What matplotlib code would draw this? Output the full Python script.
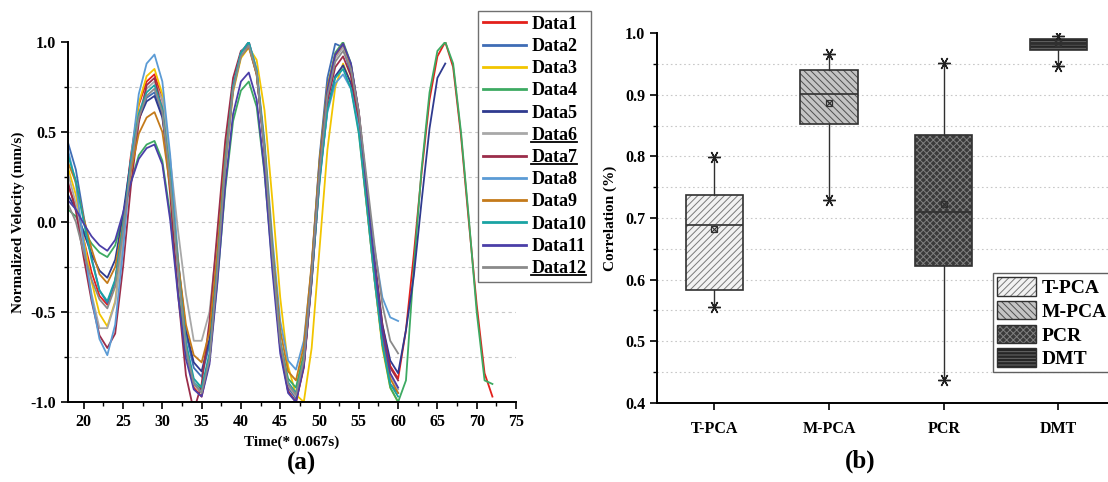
import numpy as np
import matplotlib
matplotlib.use("Agg")
import matplotlib.pyplot as plt
import matplotlib.patches as mpatches
from matplotlib.lines import Line2D
from matplotlib.legend_handler import HandlerTuple
from matplotlib.ticker import MultipleLocator

plt.rcParams['font.family'] = ['Liberation Serif', 'DejaVu Serif']
plt.rcParams['font.weight'] = 'bold'
plt.rcParams['hatch.linewidth'] = 0.7

# ---- panel (a): normalized velocity, one sample per time step starting at t = 18
t0 = 18
data1 = [0.20, 0.09, -0.10, -0.28, -0.41, -0.46, -0.33, -0.01, 0.37, 0.65, 0.78, 0.82,
         0.68, 0.28, -0.25, -0.70, -0.92, -0.97, -0.77, -0.28, 0.31, 0.74, 0.94, 1.00,
         0.84, 0.40, -0.20, -0.70, -0.94, -1.00, -0.80, -0.31, 0.29, 0.72, 0.92, 0.98,
         0.87, 0.61, 0.20, -0.20, -0.57, -0.80, -0.87,
         -0.60, -0.18, 0.28, 0.68, 0.92, 1.00, 0.86, 0.48, 0.00, -0.46, -0.84, -0.97]
data2 = [0.44, 0.29, 0.03, -0.20, -0.38, -0.45, -0.33, -0.04, 0.31, 0.57, 0.69, 0.72,
         0.59, 0.25, -0.23, -0.62, -0.81, -0.86, -0.68, -0.21, 0.34, 0.75, 0.94, 0.99,
         0.83, 0.40, -0.19, -0.69, -0.92, -0.98, -0.78, -0.25, 0.36, 0.80, 0.99, 0.97,
         0.82, 0.52, 0.10, -0.32, -0.68, -0.90, -0.95]
data3 = [0.30, 0.15, -0.10, -0.33, -0.51, -0.58, -0.44, -0.08, 0.35, 0.66, 0.81, 0.85,
         0.71, 0.31, -0.23, -0.68, -0.90, -0.95, -0.76, -0.28, 0.30, 0.72, 0.91, 0.97,
         0.90, 0.62, 0.12, -0.42, -0.80, -0.96, -1.00, -0.70, -0.15, 0.40, 0.75, 0.88,
         0.77, 0.50, 0.09, -0.32, -0.70, -0.92, -1.00]
data4 = [0.07, 0.03, -0.05, -0.12, -0.17, -0.195, -0.13, 0.03, 0.22, 0.37, 0.43, 0.45,
         0.34, 0.04, -0.38, -0.72, -0.89, -0.93, -0.76, -0.33, 0.18, 0.56, 0.73, 0.78,
         0.64, 0.27, -0.24, -0.67, -0.87, -0.92, -0.73, -0.25, 0.33, 0.75, 0.94, 1.00,
         0.88, 0.60, 0.16, -0.28, -0.68, -0.92, -1.00,
         -0.88, -0.25, 0.30, 0.72, 0.95, 1.00, 0.88, 0.50, 0.02, -0.50, -0.88, -0.90]
data5 = [0.15, 0.07, -0.06, -0.18, -0.27, -0.31, -0.21, 0.04, 0.35, 0.57, 0.67, 0.70,
         0.58, 0.24, -0.22, -0.60, -0.78, -0.83, -0.65, -0.19, 0.35, 0.75, 0.94, 0.99,
         0.83, 0.40, -0.19, -0.68, -0.91, -0.97, -0.79, -0.33, 0.23, 0.63, 0.81, 0.87,
         0.77, 0.53, 0.15, -0.22, -0.57, -0.77, -0.84,
         -0.60, -0.30, 0.12, 0.52, 0.80, 0.88]
data6 = [0.27, 0.10, -0.16, -0.40, -0.59, -0.59, -0.45, -0.11, 0.30, 0.60, 0.74, 0.78,
         0.68, 0.35, -0.05, -0.40, -0.66, -0.66, -0.50, -0.09, 0.41, 0.77, 0.93, 0.98,
         0.82, 0.40, -0.19, -0.68, -0.91, -0.97, -0.78, -0.29, 0.29, 0.72, 0.91, 0.97,
         0.86, 0.59, 0.17, -0.25, -0.63, -0.85, -0.93]
data7 = [0.22, 0.06, -0.20, -0.44, -0.63, -0.70, -0.62, -0.25, 0.20, 0.55, 0.76, 0.80,
         0.62, 0.15, -0.40, -0.85, -1.05, -0.90, -0.55, -0.05, 0.45, 0.80, 0.95, 0.98,
         0.82, 0.39, -0.21, -0.70, -0.94, -1.00, -0.81, -0.33, 0.25, 0.67, 0.86, 0.92,
         0.81, 0.56, 0.16, -0.23, -0.59, -0.81, -0.88]
data8 = [0.40, 0.21, -0.12, -0.42, -0.65, -0.74, -0.57, -0.16, 0.35, 0.71, 0.88, 0.93,
         0.78, 0.37, -0.20, -0.67, -0.89, -0.95, -0.76, -0.27, 0.32, 0.75, 0.94, 1.00,
         0.85, 0.45, -0.09, -0.55, -0.77, -0.82, -0.66, -0.25, 0.25, 0.61, 0.77, 0.82,
         0.74, 0.52, 0.18, -0.15, -0.42, -0.53, -0.55]
data9 = [0.33, 0.22, 0.02, -0.15, -0.29, -0.34, -0.25, -0.01, 0.28, 0.49, 0.58, 0.61,
         0.50, 0.19, -0.22, -0.57, -0.74, -0.78, -0.61, -0.17, 0.36, 0.74, 0.92, 0.97,
         0.82, 0.42, -0.14, -0.60, -0.83, -0.88, -0.69, -0.23, 0.34, 0.75, 0.93, 0.99,
         0.87, 0.60, 0.18, -0.25, -0.64, -0.87, -0.95]
data10 = [0.37, 0.23, 0.00, -0.21, -0.38, -0.44, -0.32, -0.02, 0.34, 0.60, 0.72, 0.76,
          0.63, 0.26, -0.25, -0.67, -0.87, -0.92, -0.73, -0.25, 0.33, 0.75, 0.94, 1.00,
          0.84, 0.42, -0.17, -0.66, -0.89, -0.95, -0.77, -0.32, 0.22, 0.62, 0.80, 0.85,
          0.74, 0.49, 0.09, -0.32, -0.68, -0.90, -0.97]
data11 = [0.12, 0.07, -0.01, -0.08, -0.13, -0.16, -0.10, 0.05, 0.22, 0.35, 0.41, 0.43,
          0.32, 0.01, -0.41, -0.76, -0.93, -0.97, -0.79, -0.34, 0.20, 0.60, 0.78, 0.83,
          0.68, 0.28, -0.27, -0.73, -0.95, -1.00, -0.80, -0.30, 0.29, 0.73, 0.93, 0.99,
          0.88, 0.61, 0.19, -0.23, -0.61, -0.84, -0.92]
data12 = [0.10, 0.00, -0.17, -0.32, -0.43, -0.48, -0.36, -0.05, 0.31, 0.58, 0.70, 0.74,
          0.61, 0.23, -0.27, -0.70, -0.90, -0.95, -0.76, -0.27, 0.31, 0.73, 0.92, 0.98,
          0.83, 0.40, -0.18, -0.67, -0.90, -0.96, -0.77, -0.29, 0.28, 0.70, 0.89, 0.95,
          0.85, 0.61, 0.24, -0.13, -0.46, -0.66, -0.73]

series = [data1, data2, data3, data4, data5, data6,
          data7, data8, data9, data10, data11, data12]
names = ['Data%d' % i for i in range(1, 13)]
underlined = ['Data6', 'Data7', 'Data12']
colors = ['#E3201B', '#3F6DB5', '#F2C500', '#3DAA62', '#2F3A8F', '#A8A8A8',
          '#9B2D4A', '#5B9BD5', '#C47A1A', '#1AA3A3', '#4B3FA8', '#8A8A8A']

# ---- panel (b): correlation box statistics
methods = ['T-PCA', 'M-PCA', 'PCR', 'DMT']
whislo = [0.556, 0.729, 0.438, 0.947]
q1 = [0.584, 0.852, 0.622, 0.973]
med = [0.688, 0.901, 0.710, 0.982]
q3 = [0.737, 0.940, 0.835, 0.991]
whishi = [0.799, 0.966, 0.952, 0.995]
mean = [0.682, 0.887, 0.723, 0.984]

box_face = ['#f2f2f2', '#c4c4c4', '#3a3a3a', '#262626']
box_hatch = ['/////', '\\\\\\\\\\', 'xxxxx', '-----']
hatch_col = ['#7a7a7a', '#505050', '#808080', '#6a6a6a']

fig = plt.figure(figsize=(11.08, 4.82), dpi=100)

# ============ (a) ============
ax1 = fig.add_axes([0.0614, 0.166, 0.4043, 0.747])
for v, c, n in zip(series, colors, names):
    t = np.arange(t0, t0 + len(v))
    ax1.plot(t, v, color=c, lw=1.3, label=n)

ax1.set_xlim(18, 75)
ax1.set_ylim(-1.0, 1.0)
for g in np.arange(-0.75, 0.76, 0.25):
    ax1.axhline(g, color='#c8c8c8', lw=0.8, ls=(0, (3, 3)), zorder=0)
ax1.xaxis.set_major_locator(MultipleLocator(5))
ax1.xaxis.set_minor_locator(MultipleLocator(2.5))
ax1.yaxis.set_major_locator(MultipleLocator(0.5))
ax1.yaxis.set_minor_locator(MultipleLocator(0.25))
ax1.tick_params(which='major', direction='out', length=5, width=1.2, labelsize=11.5)
ax1.tick_params(which='minor', direction='out', length=3, width=1.0)
ax1.spines['top'].set_visible(False)
ax1.spines['right'].set_visible(False)
ax1.spines['left'].set_linewidth(1.4)
ax1.spines['bottom'].set_linewidth(1.4)
ax1.yaxis.set_major_formatter(matplotlib.ticker.FormatStrFormatter('%.1f'))
ax1.set_xlabel('Time(* 0.067s)', fontsize=11, fontweight='bold', labelpad=4)
ax1.set_ylabel('Normalized Velocity (mm/s)', fontsize=11, fontweight='bold', labelpad=4)

leg1 = fig.legend(loc='upper left', bbox_to_anchor=(0.4314, 0.977),
                  bbox_transform=fig.transFigure, fontsize=13,
                  frameon=True, fancybox=False, framealpha=1, edgecolor='#707070',
                  handlelength=2.4, handletextpad=0.3, labelspacing=0.29,
                  borderpad=0.25, borderaxespad=0)
leg1.get_frame().set_linewidth(1.0)
for line in leg1.get_lines():
    line.set_linewidth(2.0)

fig.text(0.272, 0.025, '(a)', fontsize=18, fontweight='bold', ha='center')

# ============ (b) ============
ax2 = fig.add_axes([0.593, 0.164, 0.414, 0.7675])
pos = np.arange(1, len(methods) + 1)
stats = [dict(label=m, whislo=a, q1=b, med=c, q3=d, whishi=e, mean=f)
         for m, a, b, c, d, e, f in zip(methods, whislo, q1, med, q3, whishi, mean)]
bp = ax2.bxp(stats, positions=pos, widths=0.5, patch_artist=True,
             showmeans=False, showcaps=False, showfliers=False,
             whiskerprops=dict(color='#303030', lw=1.0),
             medianprops=dict(color='#303030', lw=1.2),
             boxprops=dict(lw=0))
box_w = 0.5
for b, fc, h, hc in zip(bp['boxes'], box_face, box_hatch, hatch_col):
    b.set_facecolor(fc)
    b.set_hatch(h)
    b.set_edgecolor(hc)
    b.set_linewidth(0)
for p, lo, hi in zip(pos, q1, q3):
    ax2.add_patch(mpatches.Rectangle((p - box_w / 2, lo), box_w, hi - lo,
                                     fill=False, ec='#303030', lw=1.2, zorder=3))

star = (6, 2, 90)
ax2.plot(pos, whishi, ls='none', marker=star, ms=9, mec='#202020', mew=1.0, zorder=4)
ax2.plot(pos, whislo, ls='none', marker=star, ms=9, mec='#202020', mew=1.0, zorder=4)
ax2.plot(pos, mean, ls='none', marker='s', ms=5, mfc='none', mec='#303030', mew=0.9, zorder=4)
ax2.plot(pos, mean, ls='none', marker='x', ms=4, mec='#303030', mew=0.8, zorder=4)

ax2.set_xlim(0.5, 4.5)
ax2.set_ylim(0.4, 1.0)
for g in np.arange(0.45, 0.96, 0.05):
    ax2.axhline(g, color='#c8c8c8', lw=0.8, ls=(0, (1.5, 2.5)), zorder=0)
ax2.set_xticks(pos)
ax2.set_xticklabels(methods)
ax2.yaxis.set_major_locator(MultipleLocator(0.1))
ax2.yaxis.set_minor_locator(MultipleLocator(0.05))
ax2.yaxis.set_major_formatter(matplotlib.ticker.FormatStrFormatter('%.1f'))
ax2.tick_params(which='major', direction='out', length=5, width=1.2, labelsize=11.5)
ax2.tick_params(which='minor', direction='out', length=3, width=1.0)
ax2.tick_params(axis='x', pad=8)
ax2.spines['top'].set_visible(False)
ax2.spines['right'].set_visible(False)
ax2.spines['left'].set_linewidth(1.4)
ax2.spines['bottom'].set_linewidth(1.4)
ax2.set_ylabel('Correlation (%)', fontsize=11, fontweight='bold', labelpad=6)

handles = []
for fc, h, hc in zip(box_face, box_hatch, hatch_col):
    fill = mpatches.Patch(facecolor=fc, hatch=h, edgecolor=hc, lw=0)
    edge = mpatches.Patch(fill=False, edgecolor='#303030', lw=1.0)
    handles.append((fill, edge))
leg2 = fig.legend(handles, methods, loc='upper left',
                  bbox_to_anchor=(0.8962, 0.4336), bbox_transform=fig.transFigure,
                  handler_map={tuple: HandlerTuple(ndivide=1, pad=0)},
                  fontsize=14, frameon=True, fancybox=False, framealpha=1,
                  edgecolor='#606060', handlelength=2.0, handleheight=1.1,
                  handletextpad=0.3, labelspacing=0.2, borderpad=0.2, borderaxespad=0)
leg2.get_frame().set_linewidth(1.0)

fig.text(0.776, 0.03, '(b)', fontsize=18, fontweight='bold', ha='center')

# underline a few legend entries
fig.canvas.draw()
renderer = fig.canvas.get_renderer()
inv = fig.transFigure.inverted()
for txt in leg1.get_texts():
    if txt.get_text() in underlined:
        bb = txt.get_window_extent(renderer)
        (x0, y0), (x1, _) = inv.transform([(bb.x0, bb.y0 + 2), (bb.x1, bb.y0)])
        fig.add_artist(Line2D([x0, x1], [y0, y0], transform=fig.transFigure,
                              color='black', lw=1.3, zorder=10))

fig.savefig('out.png', dpi=100)
